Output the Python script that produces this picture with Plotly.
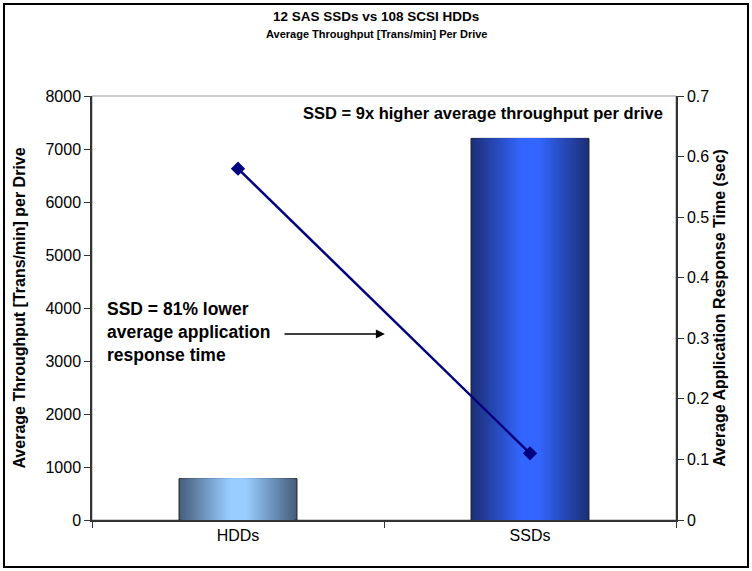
import plotly.graph_objects as go

categories = ["HDDs", "SSDs"]
throughput = [780, 7200]          # Trans/min per drive (left axis)
response_time = [0.58, 0.11]      # sec (right axis)

title_main = "12 SAS SSDs vs 108 SCSI HDDs"
title_sub = "Average Throughput [Trans/min] Per Drive"
left_title = "Average Throughput [Trans/min] per Drive"
right_title = "Average Application Response Time (sec)"

FONT = "Arial, Liberation Sans, sans-serif"

def hex2rgb(h):
    h = h.lstrip("#")
    return tuple(int(h[i:i + 2], 16) for i in (0, 2, 4))

def mix(a, b, t):
    ra, rb = hex2rgb(a), hex2rgb(b)
    return "rgb(%d,%d,%d)" % tuple(round(ra[i] + (rb[i] - ra[i]) * t) for i in range(3))

edge_cols = ["#465f7d", "#1c2f78"]
center_cols = ["#99ccff", "#3366ff"]

fig = go.Figure()

BAR_W = 0.404
N = 28
for k in range(N):
    t = k / (N - 1)
    w = BAR_W * (1 - k / N)
    cols = [mix(edge_cols[i], center_cols[i], min(1.0, t * 1.15)) for i in range(2)]
    fig.add_trace(go.Bar(
        x=categories, y=throughput, width=[w, w],
        marker=dict(color=cols,
                    line=dict(color="#222222", width=1 if k == 0 else 0)),
        showlegend=False, hoverinfo="skip", yaxis="y"))

fig.add_trace(go.Scatter(
    x=categories, y=response_time, yaxis="y2", mode="lines+markers",
    line=dict(color="#000080", width=2.5),
    marker=dict(symbol="diamond", size=11, color="#000080"),
    showlegend=False))

fig.update_layout(
    width=752, height=571,
    margin=dict(l=92, r=76, t=96, b=51),
    paper_bgcolor="white", plot_bgcolor="white",
    barmode="overlay",
    font=dict(family=FONT, color="black", size=16),
    xaxis=dict(type="category", range=[-0.5, 1.5], tickson="boundaries",
               ticks="outside", ticklen=6, tickcolor="#333", showline=True,
               linecolor="#333", linewidth=1.5, showgrid=False,
               tickfont=dict(size=16), zeroline=False),
    yaxis=dict(range=[0, 8000], dtick=1000, tickformat="d", ticks="outside",
               ticklen=6, tickcolor="#333", showline=True, linecolor="#333",
               linewidth=1.5, showgrid=False, zeroline=False,
               tickfont=dict(size=16),
               title=dict(text="<b>%s</b>" % left_title, font=dict(size=16), standoff=16)),
    yaxis2=dict(range=[0, 0.7], dtick=0.1, overlaying="y", side="right",
                ticks="outside", ticklen=6, tickcolor="#333", showline=True,
                linecolor="#333", linewidth=1.5, showgrid=False, zeroline=False,
                tickfont=dict(size=16),
                title=dict(text="<b>%s</b>" % right_title, font=dict(size=16), standoff=6)),
    shapes=[
        dict(type="rect", xref="paper", yref="paper", x0=0, x1=1, y0=0, y1=1,
             line=dict(color="#999999", width=1), layer="below"),
        dict(type="rect", xref="paper", yref="paper",
             x0=-0.1507, x1=1.1233, y0=-0.111, y1=1.217,
             line=dict(color="black", width=2)),
    ],
    annotations=[
        dict(text="<b>%s</b>" % title_main, xref="paper", yref="paper",
             x=(376 - 92) / 584, y=(520 - 17) / 424, showarrow=False,
             font=dict(size=13.5), xanchor="center", yanchor="middle"),
        dict(text="<b>%s</b>" % title_sub, xref="paper", yref="paper",
             x=(376 - 92) / 584, y=(520 - 34) / 424, showarrow=False,
             font=dict(size=11), xanchor="center", yanchor="middle"),
        dict(text="<b>SSD = 9x higher average throughput per drive</b>",
             xref="paper", yref="paper", x=(665 - 92) / 584, y=(520 - 113) / 424,
             showarrow=False, font=dict(size=16.5), xanchor="right", yanchor="middle"),
        dict(text="<b>SSD = 81% lower<br>average application<br>response time</b>",
             xref="paper", yref="paper", x=(105 - 92) / 584, y=(520 - 332) / 424,
             showarrow=False, font=dict(size=17.5), xanchor="left", yanchor="middle",
             align="left"),
        dict(text="", x=0.503, y=3510, xref="x", yref="y",
             ax=0.154, ay=3510, axref="x", ayref="y",
             showarrow=True, arrowhead=2, arrowsize=1.2, arrowwidth=1.5,
             arrowcolor="black"),
    ],
)

fig.write_html("out.html")
